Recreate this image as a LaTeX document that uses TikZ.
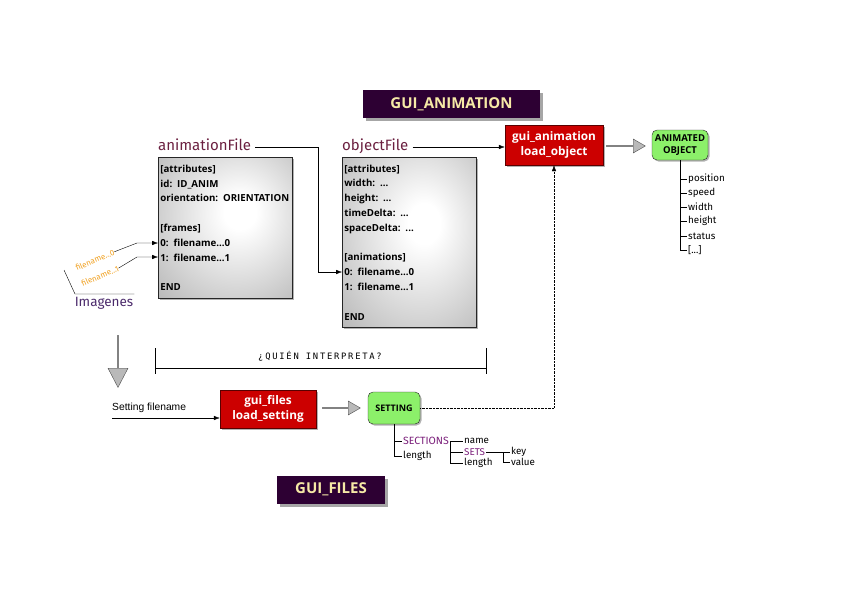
\documentclass[tikz,border=0pt]{standalone}
\usepackage{fontspec}
\setmainfont{Open Sans}
\newfontfamily\labelfont{Fira Sans}
\newfontfamily\arialfont{Liberation Sans}
\newfontfamily\handfont{DejaVu Sans Mono}[LetterSpace=20]
\usetikzlibrary{shadows,shapes.arrows,arrows.meta}
\definecolor{titlebg}{HTML}{2D0033}
\definecolor{titlefg}{HTML}{F6E9A6}
\definecolor{funcred}{HTML}{CC0000}
\definecolor{funcborder}{HTML}{5A0000}
\definecolor{objgreen}{HTML}{8CF06A}
\definecolor{labelred}{HTML}{6B2040}
\definecolor{imgpurple}{HTML}{4B2A6B}
\definecolor{fieldpurple}{HTML}{7A1E7A}
\definecolor{fileorange}{HTML}{F0A020}
\pgfdeclareradialshading{filebg}{\pgfpoint{6bp}{6bp}}{color(0bp)=(white); color(6bp)=(white); color(52bp)=(black!38); color(72bp)=(black!46)}

\begin{document}
\begin{tikzpicture}[x=1pt,y=-1pt,
title/.style={%
fill=titlebg,
text=titlefg,
font=\fontsize{15}{17}\selectfont\bfseries,
minimum height=28pt,
drop shadow={shadow xshift=3pt,shadow yshift=-3pt,fill=gray!70,opacity=1},
},
filebox/.style={%
anchor=north west,
draw=black!85,
thick,
shading=filebg,
align=left,
text width=130pt,
inner xsep=2pt,
font=\fontsize{9.7}{14.8}\selectfont\bfseries,
drop shadow={shadow xshift=1.5pt,shadow yshift=-1.5pt,fill=gray!60,opacity=1},
},
func/.style={%
fill=funcred,
draw=funcborder,
text=white,
align=center,
font=\fontsize{11.8}{14.5}\selectfont\bfseries,
drop shadow={shadow xshift=2pt,shadow yshift=-2pt,fill=gray!60,opacity=1},
},
object/.style={%
fill=objgreen,
draw=black!85,
rounded corners=5pt,
align=center,
inner sep=1pt,
font=\fontsize{9.5}{11.5}\selectfont\bfseries,
drop shadow={shadow xshift=1.5pt,shadow yshift=-1.5pt,fill=gray!60,opacity=1},
},
filelbl/.style={%
anchor=west,
text=labelred,
inner xsep=4pt,
inner ysep=0pt,
text height=7pt,
text depth=1pt,
font=\labelfont\fontsize{15}{16}\selectfont,
},
prop/.style={%
anchor=west,
inner sep=1pt,
font=\labelfont\fontsize{9.8}{10}\selectfont,
},
block/.style={%
single arrow,
draw=black!70,
fill=gray!55,
inner sep=0pt,
minimum width=14pt,
single arrow head extend=3.5pt,
single arrow tip angle=60,
},
link/.style={-{Latex[length=6pt,width=4.5pt]}},
]
\useasboundingbox(0,0)rectangle(842,595);
%% Titles
\node[title,minimum width=177pt]at(451.5,104)(tanim){GUI\_ANIMATION};
\node[title,minimum width=108pt]at(331,489.5)(tfiles){GUI\_FILES};
%% animationFile
\node[filelbl]at(154,147)(animlbl){animationFile};
\node[filebox,minimum height=141pt]at(158,157)(animfile){[attributes]\\id: ID\_ANIM\\orientation: ORIENTATION\\~\\{[frames]}\\0: filename...0\\1: filename...1\\~\\END};
\coordinate(anim0)at(158,243);
\coordinate(anim1)at(158,257);
%% objectFile
\node[filelbl]at(338,147)(objlbl){objectFile};
\node[filebox,minimum height=170pt]at(342,157)(objfile){[attributes]\\width: ...\\height: ...\\timeDelta: ...\\spaceDelta: ...\\~\\{[animations]}\\0: filename...0\\1: filename...1\\~\\END};
\coordinate(obj0)at(342,272);
%% Functions and objects
\node[func,minimum width=98pt,minimum height=40pt]at(554,145)(guianim){gui\_animation\\load\_object};
\node[func,minimum width=96pt,minimum height=38pt]at(268,409)(guifiles){gui\_files\\load\_setting};
\node[object,minimum width=56pt,minimum height=30pt]at(680,145)(aobj){ANIMATED\\OBJECT};
\node[object,minimum width=52pt,minimum height=32pt,font=\fontsize{9}{11}\selectfont\bfseries]at(394,408)(setting){SETTING};
%% Block arrows
\node[block,minimum height=39pt]at(625.5,146)(blk1){};
\node[block,minimum height=38pt]at(341,408)(blk2){};
\node[block,minimum height=52pt,minimum width=20pt,single arrow head extend=4.5pt,single arrow tip angle=55,shape border rotate=270]at(118,361)(blk3){};
%% Images
\node[rotate=23,text=fileorange,inner sep=0pt,font=\labelfont\fontsize{8}{9}\selectfont]at(95,260)(fn0){filename...0};
\node[rotate=23,text=fileorange,inner sep=0pt,font=\labelfont\fontsize{8}{9}\selectfont]at(100,276)(fn1){filename...1};
\node[text=imgpurple,inner sep=1pt,font=\labelfont\fontsize{13.5}{15}\selectfont]at(104,303)(imglbl){Imagenes};
\coordinate(imgtop)at(64,270);
\coordinate(imgcorner)at(75,294);
\draw(imgtop)--(imgcorner)--(imgcorner-|imglbl.east);
\coordinate(fn0join)at(137,243);
\coordinate(fn1join)at(137,257);
%% Links
\coordinate(animjoin)at(318,147);
\draw[link](animlbl.east)--(animjoin)|-(obj0);
\draw[link](objlbl.east)--(objlbl.east-|guianim.west);
\draw[link](fn0.east)--(fn0join)--(anim0);
\draw[link](fn1.east)--(fn1join)--(anim1);
\draw[link,densely dotted](setting.east)-|(guianim.south);
\node[anchor=south west,inner sep=0pt,font=\arialfont\fontsize{10.3}{11}\selectfont]at(112,413)(setlbl){Setting filename};
\coordinate(setin)at(112,418);
\draw[link](setin)--(setin-|guifiles.west);
%% Who interprets
\node[font=\handfont\fontsize{8.8}{10}\selectfont]at(320,356)(quien){¿QUIÉN INTERPRETA?};
\draw(155,348)--(155,374)(155,368)--(486,368)(486,348)--(486,374);
%% Animated object fields
\foreach \i/\txt/\yy in {1/position/179,2/speed/193,3/width/207,4/height/221,5/status/236,6/{[...]}/250}{%
\node[prop]at(687,\yy)(prop\i){\txt};
\draw(aobj.south)|-(prop\i.west);
}
%% Setting fields
\node[prop,text=fieldpurple,font=\labelfont\fontsize{10.5}{11}\selectfont]at(402,441)(sections){SECTIONS};
\node[prop]at(402,456)(slength){length};
\draw(setting.south)|-(sections.west);
\draw(setting.south)|-(slength.west);
\node[prop]at(463,441)(sname){name};
\node[prop,text=fieldpurple]at(463,452)(sets){SETS};
\node[prop]at(463,463)(setlen){length};
\draw(sections.east)|-(sname.west);
\draw(sections.east)|-(sets.west);
\draw(sections.east)|-(setlen.west);
\node[prop]at(510,452)(skey){key};
\node[prop]at(510,462)(sval){value};
\coordinate(setsjoin)at(503,452);
\draw(sets.east)--(skey.west);
\draw(setsjoin)|-(sval.west);
\end{tikzpicture}
\end{document}
